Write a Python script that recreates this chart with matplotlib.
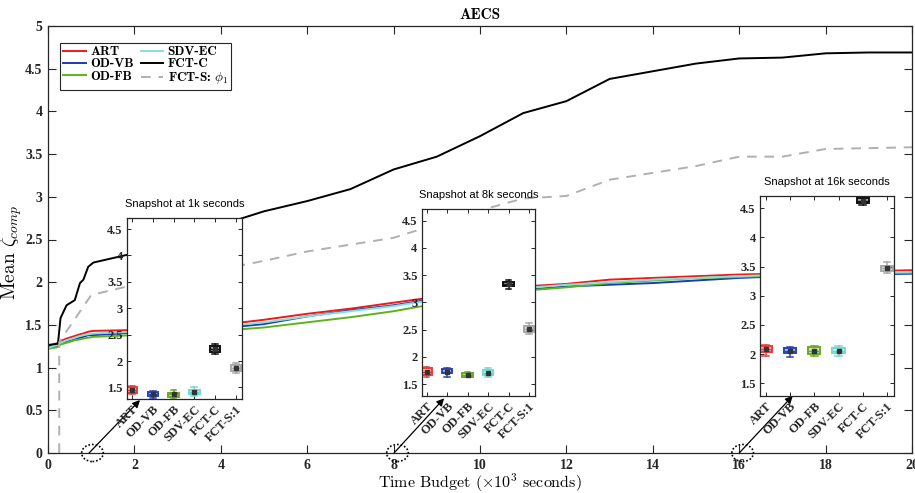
import matplotlib
matplotlib.use('Agg')
import matplotlib.pyplot as plt
from matplotlib.patches import Ellipse

plt.rcParams['mathtext.fontset'] = 'cm'
plt.rcParams['axes.unicode_minus'] = False

# ---------------- data ----------------
time = [0, 0.23, 0.29, 0.43, 0.62, 0.74, 0.82, 0.93, 1.05,
        2, 3, 4, 5, 6, 7, 8, 9, 10, 11, 12, 13, 14, 15, 16, 17, 18, 19, 20]
art = [1.25, 1.29, 1.31, 1.34, 1.37, 1.39, 1.40, 1.42, 1.43,
       1.44, 1.47, 1.50, 1.56, 1.63, 1.69, 1.76, 1.83, 1.90, 1.95, 1.98, 2.03, 2.05, 2.07, 2.09, 2.10, 2.11, 2.13, 2.14]
od_vb = [1.235, 1.26, 1.28, 1.31, 1.34, 1.35, 1.36, 1.38, 1.38,
         1.41, 1.44, 1.46, 1.51, 1.60, 1.67, 1.73, 1.81, 1.87, 1.91, 1.95, 1.97, 1.99, 2.02, 2.05, 2.07, 2.08, 2.09, 2.10]
od_fb = [1.22, 1.24, 1.27, 1.29, 1.32, 1.33, 1.34, 1.35, 1.36,
         1.38, 1.40, 1.43, 1.47, 1.53, 1.59, 1.66, 1.75, 1.83, 1.90, 1.94, 1.99, 2.02, 2.05, 2.06, 2.08, 2.09, 2.10, 2.11]
sdv_ec = [1.23, 1.27, 1.29, 1.32, 1.35, 1.37, 1.38, 1.39, 1.40,
          1.42, 1.45, 1.48, 1.53, 1.60, 1.66, 1.72, 1.80, 1.87, 1.93, 1.97, 2.00, 2.03, 2.05, 2.07, 2.09, 2.10, 2.11, 2.12]
fct_c = [1.265, 1.28, 1.58, 1.73, 1.79, 1.99, 2.03, 2.18, 2.23,
         2.34, 2.50, 2.67, 2.83, 2.95, 3.09, 3.32, 3.47, 3.71, 3.98, 4.12, 4.38, 4.47, 4.56, 4.62, 4.63, 4.68, 4.69, 4.69]
fcts_time = [0.26, 0.26, 1.0, 2, 3, 4, 5, 6, 7, 8, 9, 10, 11, 12, 13, 14, 15, 16, 17, 18, 19, 20]
fct_s = [0, 1.30, 1.85, 1.97, 2.07, 2.15, 2.25, 2.36, 2.44, 2.52, 2.68, 2.84, 2.98, 3.01, 3.20, 3.28, 3.36, 3.47, 3.47, 3.56, 3.57, 3.58]

legend_labels = ['ART', 'OD-VB', 'OD-FB', 'SDV-EC', 'FCT-C', r'FCT-S: $\phi_1$']
box_labels = ['ART', 'OD-VB', 'OD-FB', 'SDV-EC', 'FCT-C', 'FCT-S:1']

snap_titles = ['Snapshot at 1k seconds', 'Snapshot at 8k seconds', 'Snapshot at 16k seconds']
snap_times = [1.03, 8.09, 16.08]

snap1_med = [1.45, 1.37, 1.37, 1.42, 2.23, 1.87]
snap1_q1 = [1.40, 1.33, 1.32, 1.37, 2.18, 1.82]
snap1_q3 = [1.50, 1.42, 1.40, 1.46, 2.28, 1.92]
snap1_lo = [1.37, 1.30, 1.30, 1.34, 2.14, 1.78]
snap1_hi = [1.53, 1.44, 1.45, 1.50, 2.32, 1.96]

snap8_med = [1.73, 1.73, 1.67, 1.71, 3.34, 2.52]
snap8_q1 = [1.67, 1.70, 1.63, 1.67, 3.30, 2.46]
snap8_q3 = [1.79, 1.78, 1.70, 1.76, 3.38, 2.57]
snap8_lo = [1.63, 1.63, 1.62, 1.63, 3.25, 2.42]
snap8_hi = [1.82, 1.80, 1.72, 1.79, 3.41, 2.62]

snap16_med = [2.09, 2.05, 2.05, 2.06, 4.63, 3.47]
snap16_q1 = [2.04, 2.01, 2.00, 2.02, 4.59, 3.42]
snap16_q3 = [2.13, 2.10, 2.12, 2.11, 4.67, 3.51]
snap16_lo = [1.97, 1.95, 1.96, 1.96, 4.56, 3.39]
snap16_hi = [2.16, 2.12, 2.13, 2.13, 4.70, 3.57]

xticks = [0, 2, 4, 6, 8, 10, 12, 14, 16, 18, 20]
yticks = [0, 0.5, 1, 1.5, 2, 2.5, 3, 3.5, 4, 4.5, 5]
ytick_labels = ['0', '0.5', '1', '1.5', '2', '2.5', '3', '3.5', '4', '4.5', '5']
inset_yticks = [1.5, 2, 2.5, 3, 3.5, 4, 4.5]
inset_ytick_labels = ['1.5', '2', '2.5', '3', '3.5', '4', '4.5']

line_colors = ['#f01818', '#2038b0', '#5fb21e', '#7ee3da', '#000000', '#b0b0b0']
box_colors = ['#ee3b3b', '#2a44b8', '#6aaa2a', '#6edcd6', '#111111', '#a8a8a8']

# ---------------- figure ----------------
W, H = 915, 493
fig = plt.figure(figsize=(W / 100, H / 100), dpi=100)

def px_rect(l, r, t, b):
    return [l / W, (H - b) / H, (r - l) / W, (b - t) / H]

ax = fig.add_axes(px_rect(48, 912, 26, 453))
serif_bold = dict(family='Liberation Serif', weight='bold')

series = [art, od_vb, od_fb, sdv_ec, fct_c]
for vals, c, lab in zip(series, line_colors[:5], legend_labels[:5]):
    ax.plot(time, vals, color=c, lw=1.4, label=lab)
ax.plot(fcts_time, fct_s, color=line_colors[5], lw=1.4, ls=(0, (5, 4)), label=legend_labels[5])

ax.set_xlim(0, 20)
ax.set_ylim(0, 5)
ax.set_xticks(xticks)
ax.set_xticklabels([str(v) for v in xticks], fontsize=10, **serif_bold)
ax.set_yticks(yticks)
ax.set_yticklabels(ytick_labels, fontsize=10, **serif_bold)
ax.tick_params(direction='in', top=True, right=True, length=6, width=0.8, colors='#262626', pad=4)
for s in ax.spines.values():
    s.set_color('#262626')
    s.set_linewidth(0.9)

ax.set_xlabel(r'Time Budget ($\times10^3$ seconds)', family='cmr10', fontsize=11.5, labelpad=0)
ax.set_ylabel(r'Mean $\zeta_{comp}$', family='cmr10', fontsize=14)
ax.yaxis.set_label_coords(-0.028, 0.47)
ax.set_title('AECS', family='cmb10', fontsize=11, pad=5)

leg = ax.legend(loc='upper left', bbox_to_anchor=(0.0139, 0.961), borderaxespad=0, ncol=2,
                prop=dict(family='cmb10', size=9.5), handlelength=1.7, handletextpad=0.35,
                columnspacing=0.5, labelspacing=0.0, borderpad=0.25, fancybox=False, framealpha=1)
leg.get_frame().set_edgecolor('#262626')
leg.get_frame().set_linewidth(0.8)

# circles + arrows
arrow_tips = [(2.13, 0.62), (9.17, 0.64), (17.24, 0.67)]
for st, tip in zip(snap_times, arrow_tips):
    e = Ellipse((st, 0), width=0.5, height=0.2, fill=False, ls=(0, (1, 1.2)), lw=1.2,
                edgecolor='k', clip_on=False, zorder=5)
    ax.add_patch(e)
    ax.annotate('', xy=tip, xytext=(st - 0.08, 0), annotation_clip=False,
                arrowprops=dict(arrowstyle='-|>', color='k', lw=0.9, mutation_scale=11,
                                shrinkA=0, shrinkB=0))

# ---------------- insets ----------------
inset_rects = [(127, 242, 218, 399), (421.7, 535, 209.3, 396), (760, 894, 196, 396)]
snaps = [
    (snap1_med, snap1_q1, snap1_q3, snap1_lo, snap1_hi),
    (snap8_med, snap8_q1, snap8_q3, snap8_lo, snap8_hi),
    (snap16_med, snap16_q1, snap16_q3, snap16_lo, snap16_hi),
]
positions = [1, 2, 3, 4, 5, 6]
for rect, snap, title in zip(inset_rects, snaps, snap_titles):
    ia = fig.add_axes(px_rect(*rect))
    ia.set_facecolor('white')
    med, q1, q3, lo, hi = snap
    stats = [dict(med=m, q1=a, q3=b, whislo=l, whishi=h, label=lab)
             for m, a, b, l, h, lab in zip(med, q1, q3, lo, hi, box_labels)]
    bp = ia.bxp(stats, positions=positions, widths=0.5, capwidths=0.28, patch_artist=True,
                showfliers=False)
    for i, c in enumerate(box_colors):
        bp['boxes'][i].set_facecolor(matplotlib.colors.to_rgba(c, 0.35))
        bp['boxes'][i].set_edgecolor(c)
        bp['boxes'][i].set_linewidth(1.4)
        bp['medians'][i].set_color(c)
        bp['medians'][i].set_linewidth(1.0)
        for k in (2 * i, 2 * i + 1):
            bp['whiskers'][k].set_color(c)
            bp['whiskers'][k].set_linewidth(1.1)
            bp['caps'][k].set_color(c)
            bp['caps'][k].set_linewidth(1.1)
    ia.plot(positions, med, 's', ms=2.6, color='#333333', zorder=6)
    ia.set_xlim(0.76, 6.29)
    ia.set_ylim(1.28, 4.71)
    ia.set_yticks(inset_yticks)
    ia.set_yticklabels(inset_ytick_labels, fontsize=9, **serif_bold)
    ia.set_xticks(positions)
    ia.set_xticklabels(box_labels, rotation=45, ha='right', rotation_mode='anchor',
                       fontsize=9, **serif_bold)
    ia.tick_params(direction='in', top=True, right=True, length=3, width=0.7, pad=3,
                   colors='#262626')
    for s in ia.spines.values():
        s.set_color('#262626')
        s.set_linewidth(0.9)
    ia.set_title(title, family='Liberation Sans', fontsize=8, pad=8)

fig.savefig('out.png', dpi=100)
